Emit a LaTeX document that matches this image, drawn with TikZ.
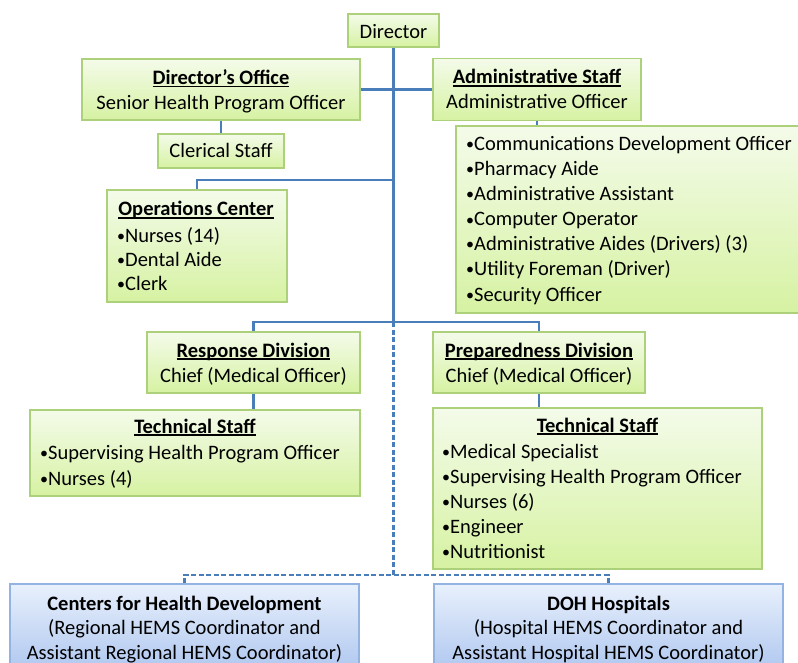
\documentclass[tikz,border=0pt]{standalone}
\usepackage{fontspec}
\setmainfont{Carlito}
\definecolor{lineblue}{HTML}{4A7EBB}
\definecolor{gtop}{HTML}{F4FBEA}
\definecolor{gbot}{HTML}{D6F2A2}
\definecolor{gborder}{HTML}{ADD17A}
\definecolor{btop}{HTML}{E8F0FC}
\definecolor{bbot}{HTML}{A9C3EE}
\definecolor{bborder}{HTML}{93B4E3}
\newcommand\myul[1]{\setbox0\hbox{#1}\rlap{\rule[-2.6pt]{\wd0}{1.3pt}}\box0}
\newcommand\bul{\raisebox{1pt}{\fontsize{16}{16}\selectfont •}}
\begin{document}
\begin{tikzpicture}[x=1pt,y=-1pt,
  gbox/.style={draw=gborder, line width=1.2pt, top color=gtop, bottom color=gbot, rectangle, inner sep=0pt},
  bbox/.style={draw=bborder, line width=1.2pt, top color=btop, bottom color=bbot, rectangle, inner sep=0pt},
  txt/.style={font=\fontsize{20.5}{25}\selectfont, inner sep=0pt, anchor=base},
  ltxt/.style={txt, anchor=base west},
  conn/.style={draw=lineblue, line width=2.6pt},
  dconn/.style={draw=lineblue, line width=2.2pt, dash pattern=on 5pt off 2.5pt}]
\clip (0,0) rectangle (798,663);
% boxes
\node[gbox, minimum width=91, minimum height=33] (dir) at (393.5,30.5) {};
\node[gbox, minimum width=278, minimum height=61] (doff) at (221,89.5) {};
\node[gbox, minimum width=126, minimum height=34] (cler) at (221,151) {};
\node[gbox, minimum width=208, minimum height=62] (adm) at (537,89.5) {};
\node[gbox, minimum width=344, minimum height=187] (admlist) at (628,219.5) {};
\node[gbox, minimum width=180, minimum height=112] (ops) at (197,246) {};
\node[gbox, minimum width=213, minimum height=61] (resp) at (253.5,362.5) {};
\node[gbox, minimum width=212, minimum height=61] (prep) at (539,362.5) {};
\node[gbox, minimum width=330, minimum height=86] (tl) at (195,453) {};
\node[gbox, minimum width=329, minimum height=161] (tr) at (597.5,488.5) {};
\node[bbox, minimum width=349, minimum height=96] (chd) at (184.5,632) {};
\node[bbox, minimum width=349, minimum height=96] (doh) at (608.5,632) {};
% connectors
\coordinate (jops) at (393.5,180);
\coordinate (jdiv) at (393.5,322);
\coordinate (jbot) at (393.5,575);
\draw[conn] (dir.south) -- (jdiv);
\draw[conn] (doff.east) -- (adm.west);
\draw[conn] (doff.south) -- (cler.north);
\draw[conn] (adm.south) -- (adm.south |- admlist.north);
\draw[conn] (jops) -| (ops.north);
\draw[conn] (resp.north) -- (resp.north |- jdiv) -- (prep.north |- jdiv) -- (prep.north);
\draw[conn] (resp.south) -- (resp.south |- tl.north);
\draw[conn] (prep.south) -- (prep.south |- tr.north);
\draw[dconn] (jdiv) -- (jbot);
\draw[dconn] (chd.north) -- (chd.north |- jbot) -- (doh.north |- jbot) -- (doh.north);
% texts
\node[txt] (t-dir) at (393.5,39) {Director};
\node[txt] (t-doff1) at (221,84.5) {\myul{\textbf{Director’s Office}}};
\node[txt] (t-doff2) at (221,110) {Senior Health Program Officer};
\node[txt] (t-cler) at (221,158) {Clerical Staff};
\node[txt] (t-adm1) at (537,84) {\myul{\textbf{Administrative Staff}}};
\node[txt] (t-adm2) at (537,109) {Administrative Officer};
\node[ltxt] (t-al1) at (466,151) {\bul Communications Development Officer};
\node[ltxt] (t-al2) at (466,176) {\bul Pharmacy Aide};
\node[ltxt] (t-al3) at (466,201) {\bul Administrative Assistant};
\node[ltxt] (t-al4) at (466,226) {\bul Computer Operator};
\node[ltxt] (t-al5) at (466,251) {\bul Administrative Aides (Drivers) (3)};
\node[ltxt] (t-al6) at (466,276) {\bul Utility Foreman (Driver)};
\node[ltxt] (t-al7) at (466,301) {\bul Security Officer};
\node[txt] (t-ops) at (196,216) {\myul{\textbf{Operations Center}}};
\node[ltxt] (t-o1) at (117,242.5) {\bul Nurses (14)};
\node[ltxt] (t-o2) at (117,266.5) {\bul Dental Aide};
\node[ltxt] (t-o3) at (117,290.5) {\bul Clerk};
\node[txt] (t-resp1) at (253.5,357) {\myul{\textbf{Response Division}}};
\node[txt] (t-resp2) at (253.5,382) {Chief (Medical Officer)};
\node[txt] (t-prep1) at (539,357) {\myul{\textbf{Preparedness Division}}};
\node[txt] (t-prep2) at (539,382) {Chief (Medical Officer)};
\node[txt] (t-tl) at (195,433) {\myul{\textbf{Technical Staff}}};
\node[ltxt] (t-tl1) at (40,459) {\bul Supervising Health Program Officer};
\node[ltxt] (t-tl2) at (40,485) {\bul Nurses (4)};
\node[txt] (t-tr) at (597.5,432) {\myul{\textbf{Technical Staff}}};
\node[ltxt] (t-tr1) at (442,458) {\bul Medical Specialist};
\node[ltxt] (t-tr2) at (442,483) {\bul Supervising Health Program Officer};
\node[ltxt] (t-tr3) at (442,508) {\bul Nurses (6)};
\node[ltxt] (t-tr4) at (442,533) {\bul Engineer};
\node[ltxt] (t-tr5) at (442,558) {\bul Nutritionist};
\node[txt] (t-chd1) at (184.5,610) {\textbf{Centers for Health Development}};
\node[txt] (t-chd2) at (184.5,634) {(Regional HEMS Coordinator and};
\node[txt] (t-chd3) at (184.5,659) {Assistant Regional HEMS Coordinator)};
\node[txt] (t-doh1) at (608.5,610) {\textbf{DOH Hospitals}};
\node[txt] (t-doh2) at (608.5,634) {(Hospital HEMS Coordinator and};
\node[txt] (t-doh3) at (608.5,659) {Assistant Hospital HEMS Coordinator)};
\end{tikzpicture}
\end{document}
